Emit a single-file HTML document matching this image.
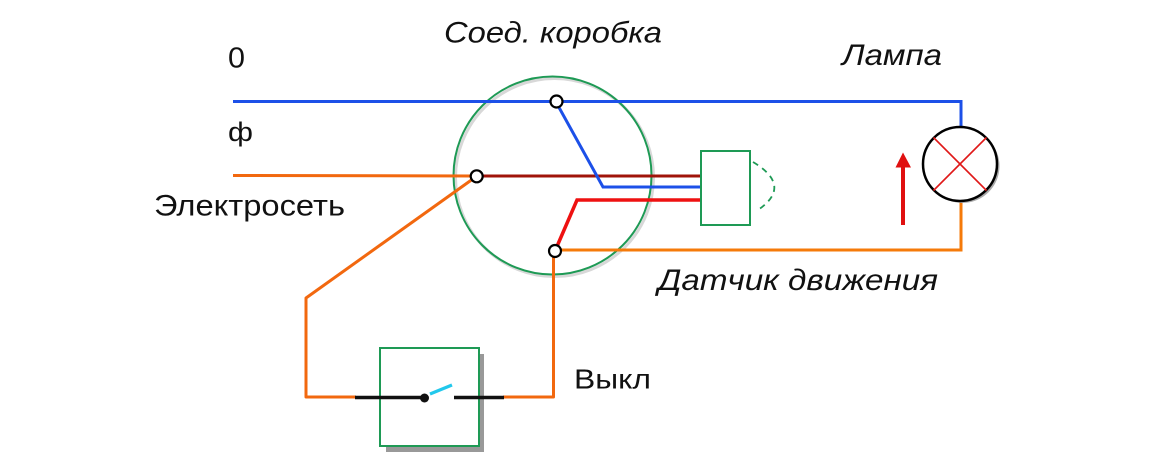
<!DOCTYPE html>
<html><head><meta charset="utf-8"><style>
html,body{margin:0;padding:0;background:#fff;}
svg{display:block;}
text{font-family:"Liberation Sans",sans-serif;fill:#111;}
</style></head><body>
<svg width="1170" height="468" viewBox="0 0 1170 468" xmlns="http://www.w3.org/2000/svg">
<rect width="1170" height="468" fill="#fff"/>
<!-- junction box shadow + circle -->
<circle cx="554.5" cy="177.5" r="99" fill="none" stroke="#d8d8d8" stroke-width="3"/>
<circle cx="552.5" cy="175.5" r="99" fill="none" stroke="#1e9a55" stroke-width="2"/>
<!-- wires -->
<polyline points="233,101.5 961,101.5 961,127" fill="none" stroke="#1c50e8" stroke-width="3"/>
<polyline points="233,175.5 477,176" fill="none" stroke="#f2680f" stroke-width="3"/>
<polyline points="477,176 306,298 306,397 356,397" fill="none" stroke="#f2680f" stroke-width="3" stroke-linejoin="round"/>
<polyline points="503,397 553.5,397 553.5,251" fill="none" stroke="#f2680f" stroke-width="3" stroke-linejoin="round"/>
<polyline points="555,250 961,250 961,201" fill="none" stroke="#f57a0a" stroke-width="3"/>
<line x1="477" y1="176" x2="701" y2="176" stroke="#a0140a" stroke-width="3"/>
<polyline points="556,102 603,187 701,187" fill="none" stroke="#1c50e8" stroke-width="3"/>
<polyline points="555,251 577,200 701,200" fill="none" stroke="#ee1111" stroke-width="3.5"/>
<!-- sensor -->
<rect x="701" y="151" width="49" height="74" fill="#fff" stroke="#1e9a55" stroke-width="2"/>
<path d="M753,162 Q793,186 758,210" fill="none" stroke="#1e9a55" stroke-width="1.8" stroke-dasharray="6,5"/>
<!-- nodes -->
<circle cx="556.5" cy="101.5" r="6" fill="#fff" stroke="#000" stroke-width="2.2"/>
<circle cx="476.7" cy="176.3" r="6" fill="#fff" stroke="#000" stroke-width="2.2"/>
<circle cx="555" cy="251" r="6" fill="#fff" stroke="#000" stroke-width="2.2"/>
<!-- switch -->
<rect x="386" y="354" width="98" height="98" fill="#999"/>
<rect x="380" y="348" width="99" height="98" fill="#fff" stroke="#1e9a55" stroke-width="2"/>
<line x1="355" y1="397.5" x2="424" y2="397.5" stroke="#111" stroke-width="3.5"/>
<line x1="454" y1="397.5" x2="504" y2="397.5" stroke="#111" stroke-width="3.5"/>
<circle cx="424.5" cy="398" r="4.5" fill="#111"/>
<line x1="430" y1="394" x2="452" y2="385" stroke="#22c8ec" stroke-width="3.2"/>
<!-- lamp -->
<circle cx="962.5" cy="166" r="37" fill="#aaa"/>
<circle cx="960" cy="164" r="37" fill="#fff" stroke="#000" stroke-width="2.5"/>
<line x1="933.5" y1="137.5" x2="986.5" y2="190.5" stroke="#e01818" stroke-width="1.6"/>
<line x1="986.5" y1="137.5" x2="933.5" y2="190.5" stroke="#e01818" stroke-width="1.6"/>
<!-- arrow -->
<line x1="903" y1="225" x2="903" y2="165" stroke="#e01010" stroke-width="4"/>
<polygon points="895.5,167.5 911,167.5 903,152.5" fill="#e01010"/>
<!-- labels -->
<text x="228" y="67.5" font-size="29" textLength="17" lengthAdjust="spacingAndGlyphs">0</text>
<text x="228" y="141" font-size="27" textLength="25" lengthAdjust="spacingAndGlyphs">ф</text>
<text x="154" y="215.5" font-size="30" textLength="191" lengthAdjust="spacingAndGlyphs">Электросеть</text>
<text x="444" y="42.5" font-size="30" font-style="italic" textLength="218" lengthAdjust="spacingAndGlyphs">Соед. коробка</text>
<text x="842" y="65" font-size="30" font-style="italic" textLength="100" lengthAdjust="spacingAndGlyphs">Лампа</text>
<text x="658" y="290" font-size="30" font-style="italic" textLength="280" lengthAdjust="spacingAndGlyphs">Датчик движения</text>
<text x="574" y="388.5" font-size="28" textLength="77" lengthAdjust="spacingAndGlyphs">Выкл</text>
</svg>
</body></html>
